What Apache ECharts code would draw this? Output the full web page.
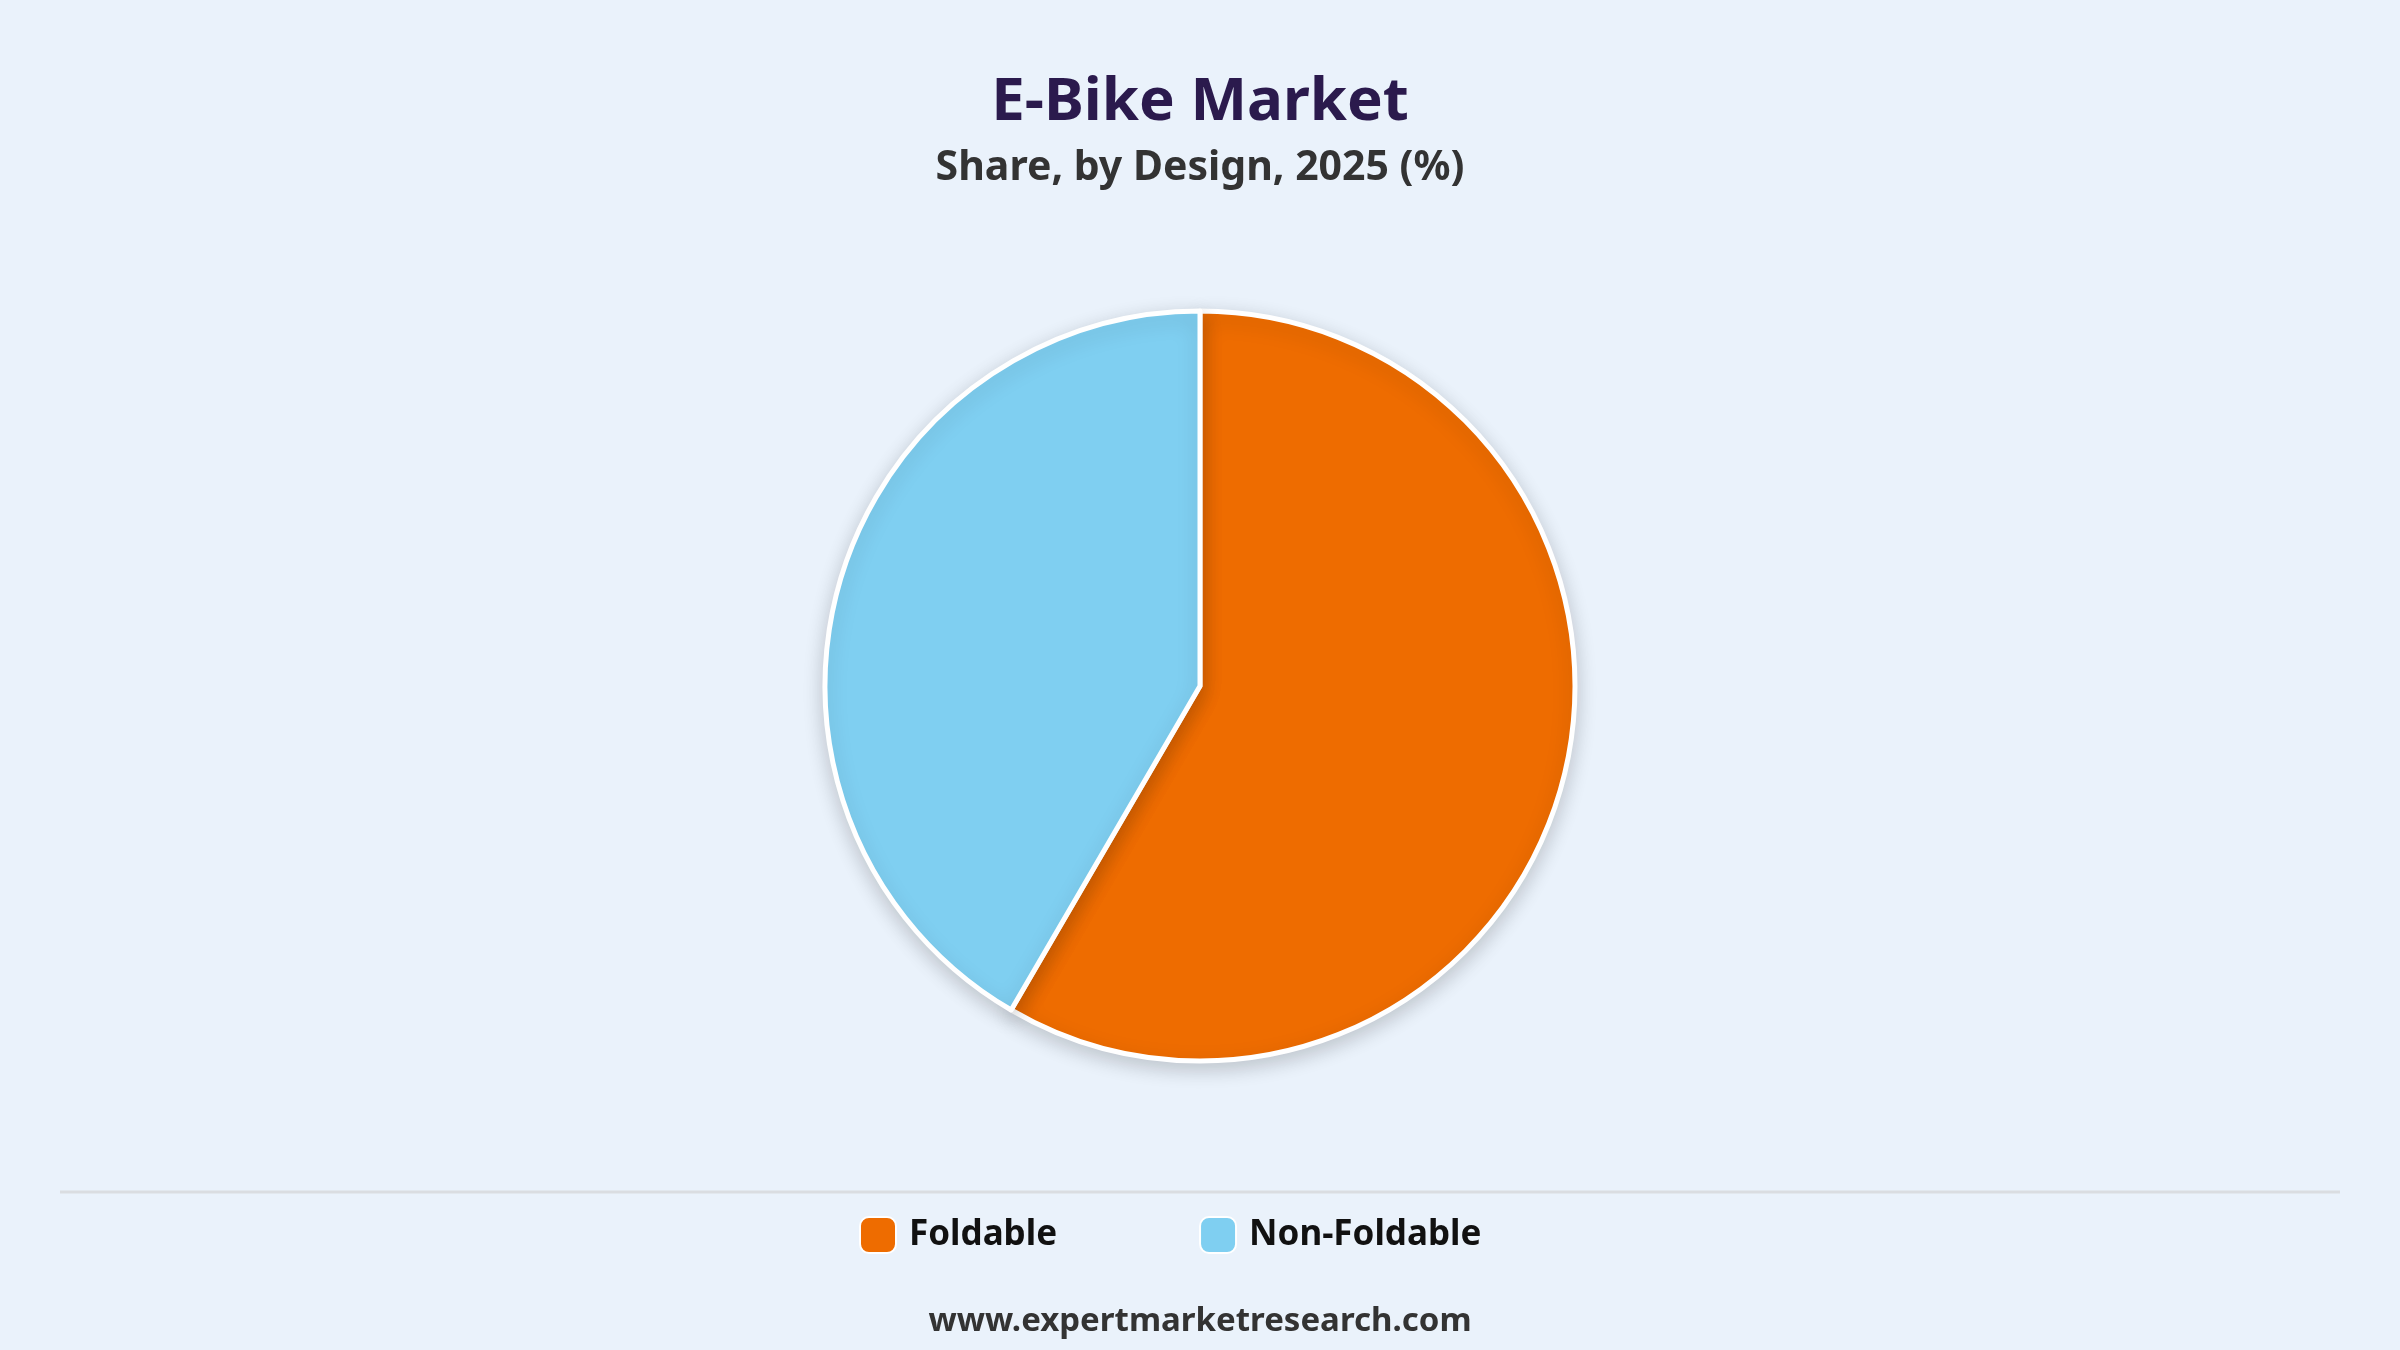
<!DOCTYPE html>
<html><head><meta charset="utf-8">
<script src="https://cdn.jsdelivr.net/npm/echarts@6/dist/echarts.min.js"></script>
<style>html,body{margin:0;padding:0;background:#EAF2FB;}#c{width:2400px;height:1350px;}</style>
</head><body><div id="c"></div>
<script>
const categories = ['Foldable', 'Non-Foldable'];
const shares = [58.4, 41.6];
const colors = ['#EE6C00', '#7FCFF1'];

const chart = echarts.init(document.getElementById('c'));
chart.setOption({
  backgroundColor: '#EAF2FB',
  animation: false,
  title: [
    { text: 'E-Bike Market', left: 'center', top: 68,
      textStyle: { fontFamily: 'Noto Sans', fontWeight: 'bold', fontSize: 60, color: '#2B1A4D' } },
    { text: 'Share, by Design, 2025 (%)', left: 'center', top: 143,
      textStyle: { fontFamily: 'Noto Sans', fontWeight: 'bold', fontSize: 41, color: '#333333' } },
    { text: 'www.expertmarketresearch.com', left: 'center', top: 1300,
      textStyle: { fontFamily: 'Noto Sans', fontWeight: 'bold', fontSize: 33, color: '#333333' } }
  ],
  legend: {
    left: 854, top: 1211,
    itemWidth: 36, itemHeight: 36, itemGap: 142,
    icon: 'roundRect',
    textStyle: { fontFamily: 'Noto Sans', fontWeight: 'bold', fontSize: 35, color: '#111111', padding: [0,0,0,8] },
    data: categories
  },
  graphic: [
    { type: 'line', shape: { x1: 60, y1: 1192, x2: 2340, y2: 1192 },
      style: { stroke: '#DADDE1', lineWidth: 3 } }
  ],
  series: [{
    type: 'pie',
    center: [1200, 686],
    radius: 375,
    startAngle: 90,
    clockwise: true,
    label: { show: false },
    labelLine: { show: false },
    itemStyle: { borderColor: '#FFFFFF', borderWidth: 5, shadowBlur: 20, shadowColor: 'rgba(0,0,0,0.18)', shadowOffsetY: 6 },
    data: categories.map((n, i) => ({ name: n, value: shares[i], itemStyle: { color: colors[i] } }))
  }]
});
</script></body></html>
